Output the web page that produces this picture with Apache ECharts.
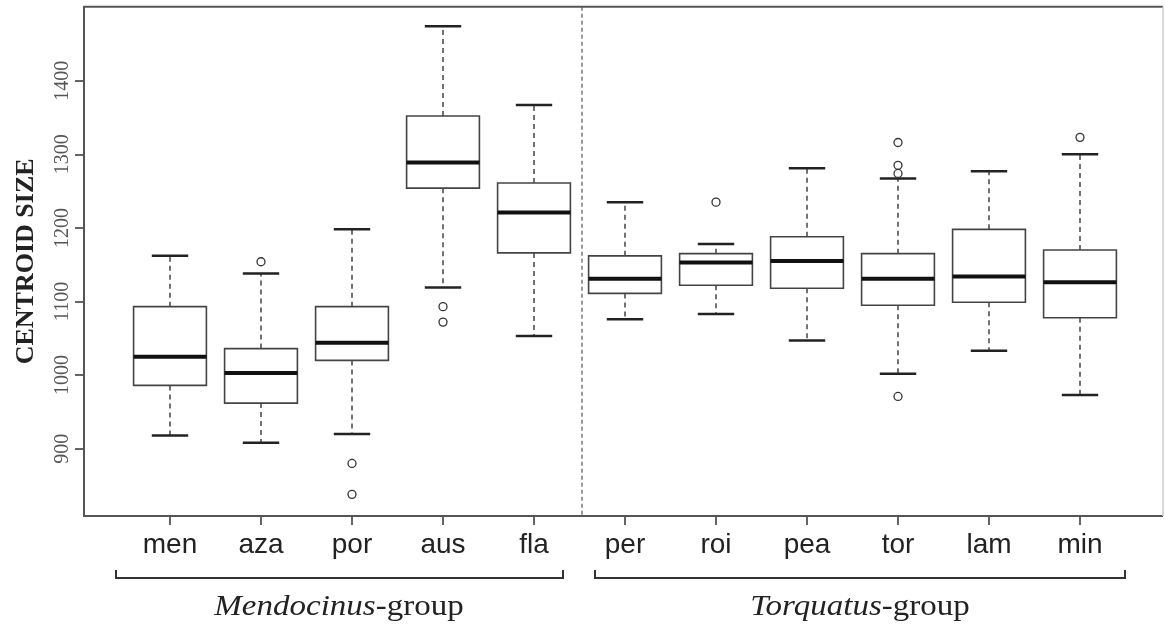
<!DOCTYPE html>
<html>
<head>
<meta charset="utf-8">
<script src="https://cdn.jsdelivr.net/npm/echarts@6/dist/echarts.min.js"></script>
<style>
html,body{margin:0;padding:0;background:#fff;}
#chart{width:1165px;height:632px;}
</style>
</head>
<body>
<div id="chart"></div>
<script>
// ---- data ----
const categories = ['men', 'aza', 'por', 'aus', 'fla', 'per', 'roi', 'pea', 'tor', 'lam', 'min'];
const whiskerLow  = [918, 908, 920, 1119, 1053, 1076, 1083, 1047, 1002, 1033, 973];
const q1          = [986, 962, 1020, 1254, 1166, 1111, 1122, 1118, 1095, 1099, 1078];
const median      = [1025, 1003, 1044, 1289, 1221, 1131, 1153, 1155, 1131, 1134, 1126];
const q3          = [1093, 1036, 1093, 1352, 1261, 1162, 1165, 1188, 1165, 1198, 1170];
const whiskerHigh = [1162, 1138, 1198, 1474, 1367, 1235, 1178, 1281, 1267, 1277, 1300];
const outlierCategory = ['aza', 'por', 'por', 'aus', 'aus', 'roi', 'tor', 'tor', 'tor', 'tor', 'min'];
const outlierValue    = [1154, 880, 838, 1093, 1072, 1235, 1316, 1285, 1274, 971, 1323];
const yTickValues = [900, 1000, 1100, 1200, 1300, 1400];
const yAxisTitle = 'CENTROID SIZE';
const groupNames = ['Mendocinus', 'Torquatus'];

const boxData = categories.map((c, i) => [i, whiskerLow[i], q1[i], median[i], q3[i], whiskerHigh[i]]);
const outlierData = outlierCategory.map((c, k) => [categories.indexOf(c), outlierValue[k]]);

const chart = echarts.init(document.getElementById('chart'), null, {renderer: 'canvas'});

function renderBox(params, api) {
  const i = api.value(0);
  const band = api.size([1, 0])[0];
  const hb = band * 0.4;   // half box width
  const hc = band * 0.2;   // half cap width
  const pLo = api.coord([i, api.value(1)]);
  const pQ1 = api.coord([i, api.value(2)]);
  const pMed = api.coord([i, api.value(3)]);
  const pQ3 = api.coord([i, api.value(4)]);
  const pHi = api.coord([i, api.value(5)]);
  const x = pMed[0];
  const whiskerStyle = {stroke: '#444', lineWidth: 1.5, lineDash: [5, 4]};
  const capStyle = {stroke: '#222', lineWidth: 2.5};
  return {
    type: 'group',
    children: [
      {type: 'line', shape: {x1: x, y1: pQ3[1], x2: x, y2: pHi[1]}, style: whiskerStyle},
      {type: 'line', shape: {x1: x, y1: pQ1[1], x2: x, y2: pLo[1]}, style: whiskerStyle},
      {type: 'line', shape: {x1: x - hc, y1: pHi[1], x2: x + hc, y2: pHi[1]}, style: capStyle},
      {type: 'line', shape: {x1: x - hc, y1: pLo[1], x2: x + hc, y2: pLo[1]}, style: capStyle},
      {type: 'rect', shape: {x: x - hb, y: pQ3[1], width: hb * 2, height: pQ1[1] - pQ3[1]},
        style: {fill: '#fff', stroke: '#444', lineWidth: 1.6}},
      {type: 'line', shape: {x1: x - hb, y1: pMed[1], x2: x + hb, y2: pMed[1]},
        style: {stroke: '#111', lineWidth: 4}}
    ]
  };
}

const frameL = 84, frameT = 6.7, frameR = 1163, frameB = 516;
const darkLine = {stroke: '#555', lineWidth: 2, fill: null};

const option = {
  backgroundColor: '#fff',
  animation: false,
  grid: {left: 124.5, right: 39.5, top: frameT, bottom: 632 - frameB, containLabel: false},
  xAxis: {
    type: 'category',
    data: categories,
    axisLine: {show: false},
    axisTick: {show: true, alignWithLabel: true, length: 9, lineStyle: {color: '#333', width: 1.5}},
    axisLabel: {fontFamily: 'Liberation Sans, Arial, sans-serif', fontSize: 28, color: '#222', margin: 15},
    splitLine: {show: false}
  },
  yAxis: {
    type: 'value',
    min: 808.6,
    max: 1500.5,
    offset: 40.5,
    axisLine: {show: false},
    axisTick: {show: true, length: 9, customValues: yTickValues, lineStyle: {color: '#333', width: 1.5}},
    axisLabel: {rotate: 90, customValues: yTickValues, formatter: v => String(v),
      fontFamily: 'Liberation Serif, Times New Roman, serif', fontSize: 20, color: '#555', margin: 11},
    splitLine: {show: false},
    name: yAxisTitle,
    nameLocation: 'middle',
    nameGap: 45,
    nameRotate: 90,
    nameTextStyle: {fontFamily: 'Liberation Serif, Times New Roman, serif', fontWeight: 'bold', fontSize: 26, color: '#222'}
  },
  series: [
    {
      type: 'custom',
      data: boxData,
      encode: {x: 0, y: [1, 2, 3, 4, 5]},
      renderItem: renderBox,
      clip: false,
      z: 2
    },
    {
      type: 'scatter',
      data: outlierData,
      symbol: 'circle',
      symbolSize: 8,
      itemStyle: {color: '#fff', borderColor: '#333', borderWidth: 1.3, opacity: 1},
      z: 3
    }
  ],
  graphic: [
    {type: 'polyline', shape: {points: [[frameR, frameT], [frameL, frameT], [frameL, frameB], [frameR, frameB]]}, style: darkLine, z: 10},
    {type: 'line', shape: {x1: frameR, y1: frameT, x2: frameR, y2: frameB}, style: {stroke: '#ccc', lineWidth: 1.5}, z: 10},
    {type: 'line', shape: {x1: 582, y1: frameT, x2: 582, y2: frameB}, style: {stroke: '#666', lineWidth: 1.3, lineDash: [4, 3]}, z: 1},
    {type: 'polyline', shape: {points: [[116, 570], [116, 578], [563, 578], [563, 570]]}, style: {stroke: '#333', lineWidth: 2, fill: null}},
    {type: 'polyline', shape: {points: [[595, 570], [595, 578], [1125, 578], [1125, 570]]}, style: {stroke: '#333', lineWidth: 2, fill: null}},
    {type: 'text', x: 339, y: 607, scaleX: 1.1,
      style: {text: '{i|' + groupNames[0] + '}{r|-group}', align: 'center', verticalAlign: 'middle',
        rich: {i: {fontFamily: 'Liberation Serif, serif', fontStyle: 'italic', fontSize: 30, fill: '#222'},
               r: {fontFamily: 'Liberation Serif, serif', fontSize: 30, fill: '#222'}}}},
    {type: 'text', x: 860, y: 607, scaleX: 1.1,
      style: {text: '{i|' + groupNames[1] + '}{r|-group}', align: 'center', verticalAlign: 'middle',
        rich: {i: {fontFamily: 'Liberation Serif, serif', fontStyle: 'italic', fontSize: 30, fill: '#222'},
               r: {fontFamily: 'Liberation Serif, serif', fontSize: 30, fill: '#222'}}}}
  ]
};
chart.setOption(option);
</script>
</body>
</html>
